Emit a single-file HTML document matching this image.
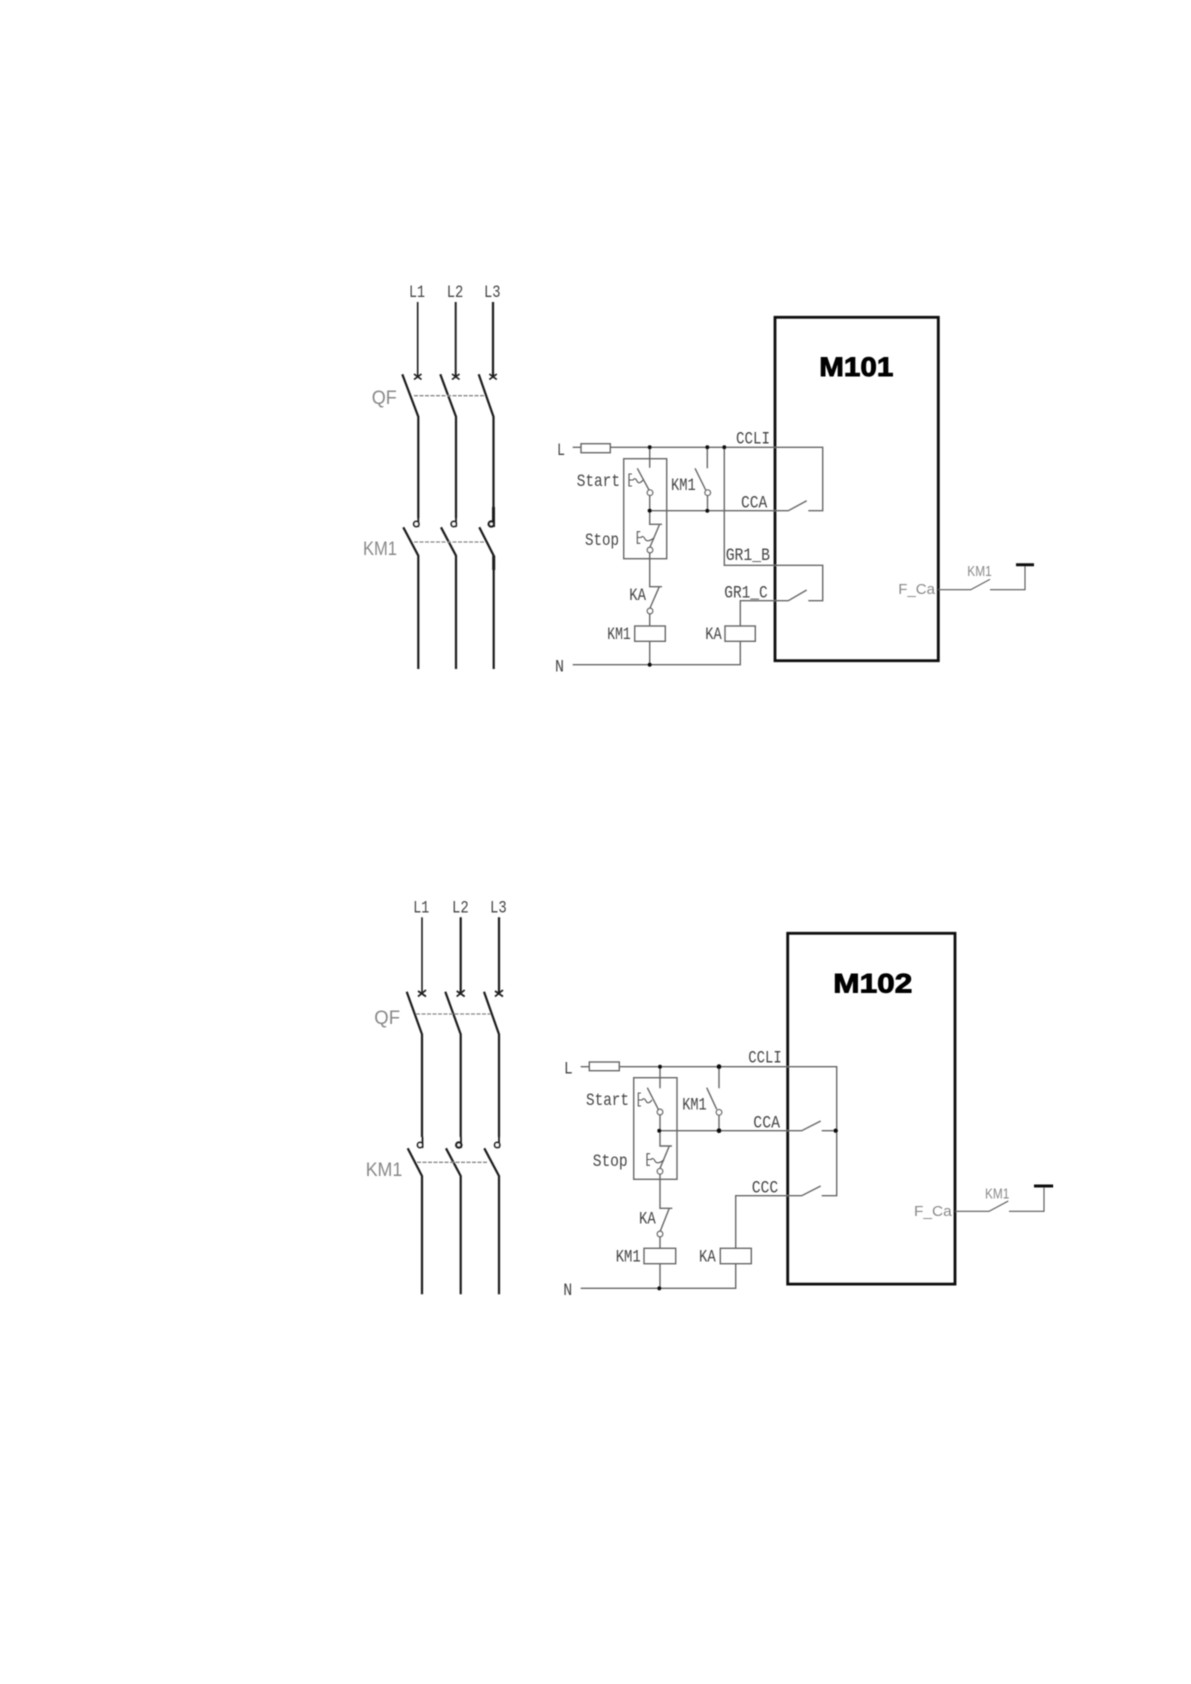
<!DOCTYPE html>
<html><head><meta charset="utf-8"><style>
html,body{margin:0;padding:0;background:#fff;width:1191px;height:1684px;overflow:hidden}
svg{display:block;position:absolute;left:0;top:0}
.s{font-family:"Liberation Mono",monospace;font-size:17.5px;fill:#444}
.g{font-family:"Liberation Sans",sans-serif;fill:#888}
.m{font-family:"Liberation Sans",sans-serif;font-weight:bold;font-size:27px;fill:#000;stroke:#000;stroke-width:.9}
.p{fill:none;stroke:#1c1c1c;stroke-width:2.2}
.t{fill:none;stroke:#666;stroke-width:1.4}
.k{fill:none;stroke:#555;stroke-width:1.1}
.d{fill:none;stroke:#888;stroke-width:1.3;stroke-dasharray:4 1.5}
.b{fill:none;stroke:#111;stroke-width:2.8}
.c{fill:#fff;stroke:#666;stroke-width:1.3}
.o{fill:#111}
</style></head><body>
<svg width="1191" height="1684" viewBox="0 0 1191 1684" xmlns="http://www.w3.org/2000/svg">
<rect width="1191" height="1684" fill="#fff"/>
<defs><filter id="bl" x="0" y="0" width="100%" height="100%"><feGaussianBlur stdDeviation="0.4"/></filter></defs>
<g filter="url(#bl)">

<!-- Top left power -->
<path class="p" style="stroke-width:1.6" d="M417.7 302V377"/>
<path class="p" style="stroke-width:1.9" d="M455.7 302V377"/>
<path class="p" d="M493 302V377"/>
<path class="p" style="stroke-width:1.6" d="M414 374l7.5 5.5M421.5 374l-7.5 5.5M452 374l7.5 5.5M459.5 374l-7.5 5.5M489.3 374l7.5 5.5M496.8 374l-7.5 5.5"/>
<path class="p" d="M402.3 374.3L418.3 416.7V518M440.3 374.3L456 416.7V518M478.7 374.3L493.5 416.7V507"/>
<path class="p" style="stroke-width:3" d="M493.5 507V527"/>
<path class="p" style="stroke-width:1.8" d="M418.3 518V527M456 518V527"/>
<circle class="c" style="stroke:#222;stroke-width:1.8" cx="416.3" cy="524" r="2.6"/>
<circle class="c" style="stroke:#222;stroke-width:1.8" cx="453.8" cy="524" r="2.6"/>
<circle class="c" style="stroke:#222;stroke-width:2.4" cx="491.3" cy="524" r="2.6"/>
<path class="p" d="M403.3 527.3L418.3 555.7V669M441 527.3L456 555.7V669M479.3 527.3L493.7 555.7V669"/>
<path class="p" style="stroke-width:3" d="M493.7 555.7V570"/>
<path class="d" d="M414 395.7H485M414 542H485"/>
<text class="s" x="409" y="297" textLength="16" lengthAdjust="spacingAndGlyphs">L1</text>
<text class="s" x="446.7" y="297" textLength="16.6" lengthAdjust="spacingAndGlyphs">L2</text>
<text class="s" x="484" y="297" textLength="16.6" lengthAdjust="spacingAndGlyphs">L3</text>
<text class="g" x="371.7" y="404" font-size="19" textLength="25" lengthAdjust="spacingAndGlyphs">QF</text>
<text class="g" x="363" y="555" font-size="19" textLength="34" lengthAdjust="spacingAndGlyphs">KM1</text>

<!-- Top circuit -->
<rect class="b" x="775" y="317.3" width="163.3" height="343.4"/>
<text class="m" x="819.3" y="376" textLength="74" lengthAdjust="spacingAndGlyphs">M101</text>
<path class="t" d="M572.7 447.3H581M610.3 447.3H822.7V510.7H808.3M649.7 447.3V467.7M649.7 495.7V524.3H662M659.3 525L650 547M649.7 553V586.7H662M659.3 586.7L650 608M649.7 614V626M649.7 641.3V664.7M572.7 664.7H740.3V641.3M740.3 626V600.7H788.3L806.7 590M808.3 600.7H822.7V565.3H724.3V447.3M649.7 510.7H788.3L806.7 500.7M707.3 447.3V468.3M695 468.3L705.7 490M707.5 495.7V510.7M637.3 468.3L649 490"/>
<rect class="t" x="581" y="443.7" width="29.3" height="9"/>
<rect class="t" x="623.7" y="458.7" width="43" height="100"/>
<rect class="t" x="634.7" y="626" width="30.6" height="15.3"/>
<rect class="t" x="725" y="626" width="30.3" height="15.3"/>
<circle class="c" cx="650" cy="492.7" r="2.8"/><circle class="c" cx="650" cy="550" r="2.8"/><circle class="c" cx="650" cy="611" r="2.8"/><circle class="c" cx="707.7" cy="492.7" r="2.8"/>
<path class="k" d="M632 474H629V486H632M629 480H633Q635 477 637 481T643 480M640.3 531.7H637.3V543.3H640.3M637.3 537.5H641Q643 535 645 539T654 538"/>
<circle class="o" cx="649.7" cy="447.3" r="2"/><circle class="o" cx="707.3" cy="447.3" r="2"/><circle class="o" cx="724.3" cy="447.3" r="2"/><circle class="o" cx="649.7" cy="510.7" r="2.1"/><circle class="o" cx="707.3" cy="510.7" r="2"/><circle class="o" cx="649.7" cy="664.7" r="2.1"/>
<text class="s" x="557" y="455" textLength="8" lengthAdjust="spacingAndGlyphs">L</text>
<text class="s" x="555" y="671.7" textLength="9" lengthAdjust="spacingAndGlyphs">N</text>
<text class="s" x="576.7" y="486" textLength="43.3" lengthAdjust="spacingAndGlyphs">Start</text>
<text class="s" x="585" y="545" textLength="34" lengthAdjust="spacingAndGlyphs">Stop</text>
<text class="s" x="671" y="490" textLength="24.7" lengthAdjust="spacingAndGlyphs">KM1</text>
<text class="s" x="736" y="443.3" textLength="34" lengthAdjust="spacingAndGlyphs">CCLI</text>
<text class="s" x="741" y="507.3" textLength="26.3" lengthAdjust="spacingAndGlyphs">CCA</text>
<text class="s" x="725.7" y="560" textLength="44.3" lengthAdjust="spacingAndGlyphs">GR1_B</text>
<text class="s" x="724.3" y="597.3" textLength="43.4" lengthAdjust="spacingAndGlyphs">GR1_C</text>
<text class="s" x="629.3" y="600" textLength="16.7" lengthAdjust="spacingAndGlyphs">KA</text>
<text class="s" x="607.3" y="639" textLength="23.4" lengthAdjust="spacingAndGlyphs">KM1</text>
<text class="s" x="705.3" y="639" textLength="16.4" lengthAdjust="spacingAndGlyphs">KA</text>
<text class="g" x="898.3" y="594" font-size="15" textLength="36.7" lengthAdjust="spacingAndGlyphs">F_Ca</text>
<text class="g" x="967.3" y="576" font-size="15" textLength="24.4" lengthAdjust="spacingAndGlyphs">KM1</text>
<path class="k" d="M938 589.7H970.7L990 579.3M990 589.7H1025V564.7"/>
<path fill="none" stroke="#111" stroke-width="3" d="M1016 564.7H1034"/>

<!-- Bottom left power -->
<path class="p" style="stroke-width:1.6" d="M422 917.3V994"/>
<path class="p" d="M460.7 917.3V994M499 917.3V994"/>
<path class="p" style="stroke-width:1.7" d="M418 991l8 5.5M426 990l-8 6.5M456.7 991l8 5.5M464.7 990l-8 6.5M495 991l8 5.5M503 990l-8 6.5"/>
<path class="p" d="M406.7 991.7L422 1034.3V1137M445.3 991.7L460.7 1034.3V1137M484 991.7L499 1034.3V1137"/>
<path class="p" style="stroke-width:1.8" d="M422.5 1137V1148M461 1137V1148M499 1137V1148"/>
<circle class="c" style="stroke:#222;stroke-width:1.8" cx="420.1" cy="1145" r="2.6"/>
<circle class="c" style="stroke:#222;stroke-width:2.4" cx="458.8" cy="1145" r="2.6"/>
<circle class="c" style="stroke:#222;stroke-width:1.8" cx="497.2" cy="1145" r="2.6"/>
<path class="p" d="M407.7 1148.3L422 1176V1294.3M446 1148.3L460.7 1176V1294.3M484.3 1148.3L499 1176V1294.3"/>
<path class="d" d="M416 1014H490.7M417 1162.3H488"/>
<text class="s" x="413.3" y="912.3" textLength="16" lengthAdjust="spacingAndGlyphs">L1</text>
<text class="s" x="452" y="912.3" textLength="16.7" lengthAdjust="spacingAndGlyphs">L2</text>
<text class="s" x="490" y="912.3" textLength="16.7" lengthAdjust="spacingAndGlyphs">L3</text>
<text class="g" x="374.3" y="1024" font-size="19" textLength="25.7" lengthAdjust="spacingAndGlyphs">QF</text>
<text class="g" x="365.7" y="1176" font-size="19" textLength="36.6" lengthAdjust="spacingAndGlyphs">KM1</text>

<!-- Bottom circuit -->
<rect class="b" x="787.7" y="933.3" width="167.3" height="350.8"/>
<text class="m" x="833.3" y="992.7" textLength="79" lengthAdjust="spacingAndGlyphs">M102</text>
<path class="t" d="M580.7 1066.7H589.3M619.3 1066.7H836.7V1195.7H821.7M660 1066.7V1088.3M647.3 1087.7L658.3 1109.3M660 1115V1146H672M669.3 1146L660 1168.3M660 1174V1208.3H672.3M669.3 1208.3L660 1231.7M660 1237V1248.3M660 1263.7V1288.3M580.7 1288.3H735.7V1263.7M735.7 1248.3V1195.7H801.7L820.7 1186M660 1130.7H801.7L820.7 1121M821.7 1130.7H836.7M719 1066.7V1088.3M706.7 1087.7L716.7 1109.3M719 1115V1130.7"/>
<rect class="t" x="589.3" y="1062" width="30" height="8.7"/>
<rect class="t" x="633.7" y="1077.7" width="43.3" height="101.6"/>
<rect class="t" x="644" y="1248.3" width="31.7" height="15.4"/>
<rect class="t" x="720.3" y="1248.3" width="31" height="15.4"/>
<circle class="c" cx="660" cy="1112" r="2.8"/><circle class="c" cx="660" cy="1171.3" r="2.8"/><circle class="c" cx="660" cy="1234" r="2.8"/><circle class="c" cx="719" cy="1112.3" r="2.8"/>
<path class="k" d="M641 1093H638.3V1106H641M638.3 1100H642Q644 1097 646 1101T652 1100M650 1153.7H647V1165.3H650M647 1159.5H651Q653 1157 655 1161T664 1160"/>
<circle class="o" cx="660" cy="1066.7" r="2"/><circle class="o" cx="719" cy="1066.7" r="2.4"/><circle class="o" cx="659.3" cy="1130.7" r="2"/><circle class="o" cx="719" cy="1130.7" r="2.4"/><circle class="o" cx="835.7" cy="1130.7" r="2.2"/><circle class="o" cx="659.3" cy="1288.3" r="2.1"/>
<text class="s" x="564" y="1073.3" textLength="8.7" lengthAdjust="spacingAndGlyphs">L</text>
<text class="s" x="563.3" y="1295" textLength="9" lengthAdjust="spacingAndGlyphs">N</text>
<text class="s" x="586" y="1105" textLength="43" lengthAdjust="spacingAndGlyphs">Start</text>
<text class="s" x="592.7" y="1166" textLength="35" lengthAdjust="spacingAndGlyphs">Stop</text>
<text class="s" x="682.3" y="1109.3" textLength="24.4" lengthAdjust="spacingAndGlyphs">KM1</text>
<text class="s" x="748.3" y="1062.3" textLength="33.4" lengthAdjust="spacingAndGlyphs">CCLI</text>
<text class="s" x="753.3" y="1127.3" textLength="26.7" lengthAdjust="spacingAndGlyphs">CCA</text>
<text class="s" x="751.7" y="1192.3" textLength="26.6" lengthAdjust="spacingAndGlyphs">CCC</text>
<text class="s" x="639" y="1223.3" textLength="16.7" lengthAdjust="spacingAndGlyphs">KA</text>
<text class="s" x="615.7" y="1261.7" textLength="25" lengthAdjust="spacingAndGlyphs">KM1</text>
<text class="s" x="699" y="1261.7" textLength="16.7" lengthAdjust="spacingAndGlyphs">KA</text>
<text class="g" x="914" y="1216" font-size="15" textLength="37.7" lengthAdjust="spacingAndGlyphs">F_Ca</text>
<text class="g" x="985" y="1198.3" font-size="15" textLength="24.3" lengthAdjust="spacingAndGlyphs">KM1</text>
<path class="k" d="M955 1211.3H989L1008.3 1201M1009 1211.3H1044V1186"/>
<path fill="none" stroke="#111" stroke-width="3" d="M1034 1186H1053.3"/>
</g>
</svg>
</body></html>
